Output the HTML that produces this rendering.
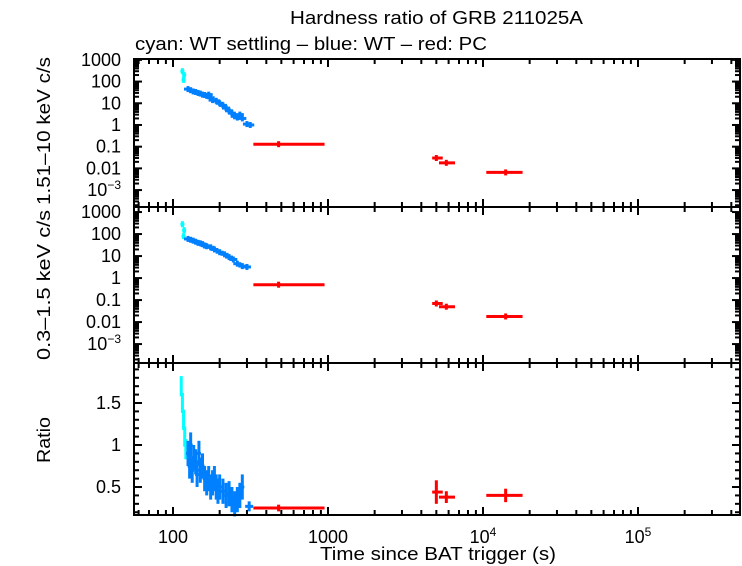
<!DOCTYPE html>
<html><head><meta charset="utf-8"><style>
body{margin:0;background:#fff}
svg{display:block;font-family:"Liberation Sans",sans-serif}
</style></head><body>
<svg id="c" width="742" height="566" viewBox="0 0 742 566">
<text x="290" y="24" font-size="18" textLength="293" lengthAdjust="spacingAndGlyphs">Hardness ratio of GRB 211025A</text>
<text x="135" y="50" font-size="18" textLength="352" lengthAdjust="spacingAndGlyphs">cyan: WT settling – blue: WT – red: PC</text>
<text x="320" y="560" font-size="18" textLength="236" lengthAdjust="spacingAndGlyphs">Time since BAT trigger (s)</text>
<text transform="translate(50,205) rotate(-90)" font-size="18" textLength="148" lengthAdjust="spacingAndGlyphs">1.51–10 keV c/s</text>
<text transform="translate(50,360) rotate(-90)" font-size="18" textLength="150" lengthAdjust="spacingAndGlyphs">0.3–1.5 keV c/s</text>
<text transform="translate(50,463) rotate(-90)" font-size="18" textLength="46" lengthAdjust="spacingAndGlyphs">Ratio</text>
<g id="marks"></g>
<g id="axes"></g>
</svg>
<script>
// ---- data ----
const hardCyanT=[115,117,118];
const hardCyanV=[300,120,200];
const hardBlueT=[125,130,135,140,145,150,155,160,165,170,175,180,190,200,210,220,230,240,250,260,270,280,300,315];
const hardBlueV=[45,40,35,33,30,28,25,24,22,25,18,14,13,10,8,6,4.5,3.5,2.5,2.2,3.0,2.0,1.1,1.0];
const softCyanT=[115,117,118];
const softCyanV=[280,80,150];
const softBlueT=[125,130,135,140,145,150,155,160,165,175,185,200,215,230,245,260,280,300];
const softBlueV=[60,55,50,45,40,38,35,30,28,25,20,15,12,9,7,4.5,3.5,3.2];
const ratioCyanT=[113,115,117,119,121];
const ratioCyanV=[1.7,1.5,1.3,1.1,0.95];
const ratioBlueT=[125,128,130,133,136,140,143,147,150,155,160,165,170,175,180,185,190,195,200,210,220,230,240,250,260,270,280];
const ratioBlueV=[0.9,0.75,1.0,0.7,0.85,0.8,0.65,0.9,0.7,0.75,0.6,0.55,0.6,0.5,0.55,0.6,0.5,0.45,0.5,0.45,0.4,0.42,0.35,0.3,0.35,0.4,0.5];
const ratioBlueErr=0.15;
const pcT=[480,5000,5800,14000];
const pcTlo=[330,4700,5200,10500];
const pcThi=[950,5500,6600,18000];
const pcHard=[0.13,0.03,0.018,0.0065];
const pcSoft=[0.5,0.07,0.05,0.018];
const pcRatio=[0.25,0.44,0.38,0.4];
const pcRatioErr=[0.04,0.14,0.07,0.08];
const extraBlueT=[310];
const extraBlueR=[0.27];
// ---- scales ----
const X0=134,X1=740;
const xs=t=>173+(Math.log10(t)-2)*155;
const P1={top:59,bot:207,lo:-3.78,hi:3.04};
const P2={top:207,bot:363,lo:-3.86,hi:3.23};
const P3={top:363,bot:515,lo:0.167,hi:1.976};
const ylog=(p,v)=>p.bot-(Math.log10(v)-p.lo)/(p.hi-p.lo)*(p.bot-p.top);
const ylin=(p,v)=>p.bot-(v-p.lo)/(p.hi-p.lo)*(p.bot-p.top);
const NS="http://www.w3.org/2000/svg";
const marks=document.getElementById('marks'),axes=document.getElementById('axes');
function el(tag,attrs,parent){const e=document.createElementNS(NS,tag);for(const k in attrs)e.setAttribute(k,attrs[k]);parent.appendChild(e);return e;}
function ln(x1,y1,x2,y2,col,w,parent,name){const e=el('line',{x1:x1,y1:y1,x2:x2,y2:y2,stroke:col,'stroke-width':w},parent);


return e;}
function cross(x,y,hw,vh,col,name){ln(x-hw,y,x+hw,y,col,3,marks,name);ln(x,y-vh,x,y+vh,col,3,marks,name);}
function countPanel(p,cT,cV,bT,bV,pv,tag){
 cT.forEach((t,i)=>cross(xs(t),ylog(p,cV[i]),2,3,'#00ffff',tag+'-cyan-point'));
 bT.forEach((t,i)=>cross(xs(t),ylog(p,bV[i]),4,3,'#0080ff',tag+'-blue-point'));
 pcT.forEach((t,i)=>{const y=ylog(p,pv[i]);ln(xs(pcTlo[i]),y,xs(pcThi[i]),y,'#ff0000',3,marks,tag+'-pc-point');ln(xs(t),y-3,xs(t),y+3,'#ff0000',3,marks,tag+'-pc-point');});
}
countPanel(P1,hardCyanT,hardCyanV,hardBlueT,hardBlueV,pcHard,'hard');
countPanel(P2,softCyanT,softCyanV,softBlueT,softBlueV,pcSoft,'soft');
ratioCyanT.forEach((t,i)=>{const x=xs(t);ln(x,ylin(P3,ratioCyanV[i]+0.12),x,ylin(P3,ratioCyanV[i]-0.12),'#00ffff',3,marks,'ratio-cyan-point');});
ratioBlueT.forEach((t,i)=>{const x=xs(t);ln(x,ylin(P3,ratioBlueV[i]+ratioBlueErr),x,ylin(P3,ratioBlueV[i]-ratioBlueErr),'#0080ff',3,marks,'ratio-blue-point');ln(x-2,ylin(P3,ratioBlueV[i]),x+2,ylin(P3,ratioBlueV[i]),'#0080ff',3,marks,'ratio-blue-point');});
extraBlueT.forEach((t,i)=>cross(xs(t),ylin(P3,extraBlueR[i]),4,5,'#0080ff','ratio-blue-point'));
pcT.forEach((t,i)=>{const y=ylin(P3,pcRatio[i]);ln(xs(pcTlo[i]),y,xs(pcThi[i]),y,'#ff0000',3,marks,'ratio-pc-point');ln(xs(t),ylin(P3,pcRatio[i]+pcRatioErr[i]),xs(t),ylin(P3,pcRatio[i]-pcRatioErr[i]),'#ff0000',3,marks,'ratio-pc-point');});
// axes
const xMajor=[100,1000,10000,100000];
const xLabels=['100','1000','10<tspan dy="-7" font-size="12">4</tspan>','10<tspan dy="-7" font-size="12">5</tspan>'];
const yLogTicks=[1000,100,10,1,0.1,0.01,0.001];
const yLogLabels=['1000','100','10','1','0.1','0.01','10<tspan dy="-7" font-size="12">−3</tspan>'];
const yRatioTicks=[0.5,1,1.5];
const yRatioLabels=['0.5','1','1.5'];
[P1,P2,P3].forEach((p,pi)=>{
 const r=el('rect',{x:X0,y:p.top,width:X1-X0,height:p.bot-p.top,fill:'none',stroke:'#000','stroke-width':2},axes);
 
 
 for(let d=1;d<=5;d++)for(let m=1;m<10;m++){const t=m*Math.pow(10,d);const x=xs(t);if(x<X0||x>X1)continue;const L=m==1?8:5;
  ln(x,p.bot,x,p.bot-L,'#000',2,axes,'x-tick');ln(x,p.top,x,p.top+L,'#000',2,axes,'x-tick');}
 if(pi<2){
  for(let d=-4;d<=3;d++)for(let m=1;m<10;m++){const v=m*Math.pow(10,d);const y=ylog(p,v);if(y<p.top||y>p.bot)continue;const L=m==1?8:5;
   ln(X0,y,X0+L,y,'#000',2,axes,'y-tick');ln(X1,y,X1-L,y,'#000',2,axes,'y-tick');}
  yLogTicks.forEach((v,i)=>{const t=el('text',{x:X0-13,y:ylog(p,v)+6,'font-size':18,'text-anchor':'end'},axes);t.innerHTML=yLogLabels[i];
   
   });
 } else {
  for(let v=0.2;v<=1.95;v+=0.1){const y=ylin(p,v);const maj=Math.abs(v*2-Math.round(v*2))<0.01;const L=maj?8:5;
   ln(X0,y,X0+L,y,'#000',2,axes,'y-tick');ln(X1,y,X1-L,y,'#000',2,axes,'y-tick');}
  yRatioTicks.forEach((v,i)=>{const t=el('text',{x:X0-13,y:ylin(p,v)+6,'font-size':18,'text-anchor':'end'},axes);t.textContent=yRatioLabels[i];
   
   });
 }
});
xMajor.forEach((v,i)=>{const t=el('text',{x:xs(v),y:543,'font-size':18,'text-anchor':'middle'},axes);t.innerHTML=xLabels[i];
 
 });
</script>
</body></html>
